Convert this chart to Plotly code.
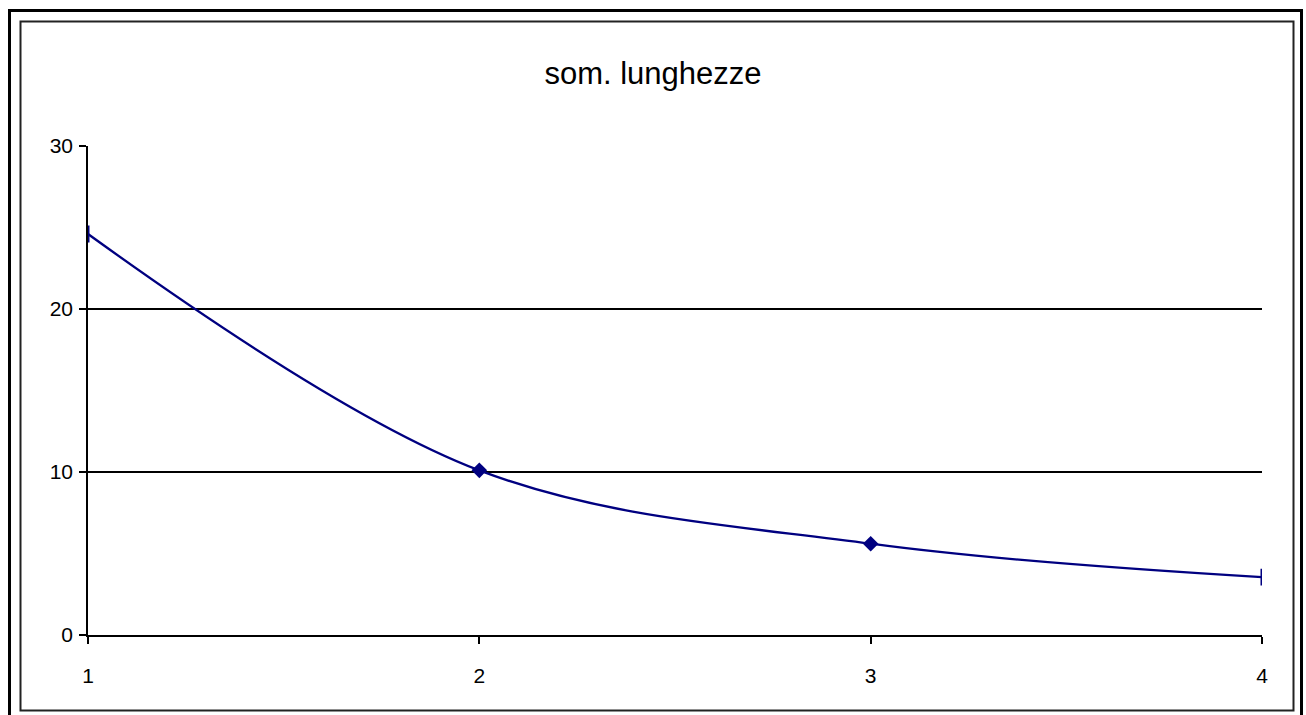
import plotly.graph_objects as go

x_values = [1, 2, 3, 4]
y_values = [24.6, 10.1, 5.6, 3.55]
y_ticks = [0, 10, 20, 30]
x_ticks = [1, 2, 3, 4]
title_text = "som. lunghezze"

W, H = 1306, 715
L, R, T, B = 88, 1262, 146, 635

def px_x(p):
    return (p - L) / (R - L)

def px_y(p):
    return (B - p) / (B - T)

# edge points are shown half-clipped in the reference (vertical bar look)
n = len(x_values)
symbols = ["line-ns" if i in (0, n - 1) else "diamond" for i in range(n)]
line_widths = [3 if i in (0, n - 1) else 0 for i in range(n)]

fig = go.Figure()
fig.add_trace(go.Scatter(
    x=x_values, y=y_values, mode="lines+markers",
    line=dict(color="#000080", width=2.3, shape="spline", smoothing=1.0),
    marker=dict(symbol=symbols, size=12, color="#000080",
                line=dict(color="#000080", width=line_widths)),
    cliponaxis=True, showlegend=False,
))

fig.update_layout(
    width=W, height=H,
    margin=dict(l=L, r=W - R, t=T, b=H - B),
    paper_bgcolor="white", plot_bgcolor="white",
    font=dict(family="Liberation Sans, Arial, sans-serif", color="black", size=21),
    title=dict(text=title_text, x=0.5, xanchor="center", y=1 - 73 / H, yanchor="middle",
               font=dict(size=31, color="black")),
    xaxis=dict(range=[1, 4], tickvals=x_ticks, ticktext=[str(v) for v in x_ticks],
               showgrid=False, zeroline=False, showline=True, linecolor="black", linewidth=1.5,
               ticks="outside", ticklen=7, tickwidth=1.5, tickcolor="black",
               tickfont=dict(size=21), ticklabelstandoff=14),
    yaxis=dict(range=[0, 30], tickvals=y_ticks, showgrid=True, gridcolor="black", gridwidth=1.5,
               zeroline=False, showline=True, linecolor="black", linewidth=1.5,
               ticks="outside", ticklen=7, tickwidth=1.5, tickcolor="black",
               tickfont=dict(size=21), ticklabelstandoff=2),
    shapes=[
        dict(type="rect", xref="paper", yref="paper",
             x0=px_x(9.5), x1=px_x(1301.5), y0=px_y(730), y1=px_y(10.5),
             line=dict(color="black", width=3), layer="above"),
        dict(type="rect", xref="paper", yref="paper",
             x0=px_x(20.5), x1=px_x(1293.5), y0=px_y(710.5), y1=px_y(21.5),
             line=dict(color="#222222", width=2), layer="above"),
    ],
)

fig.write_html("out.html")
